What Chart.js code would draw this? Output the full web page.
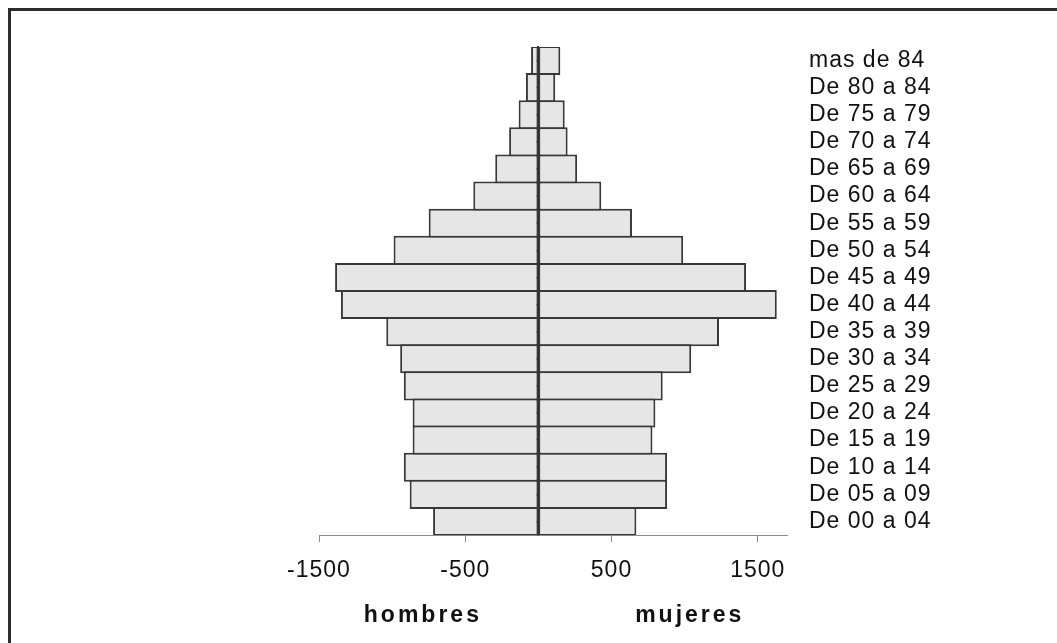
<!DOCTYPE html>
<html>
<head>
<meta charset="utf-8">
<title>Pirámide de población</title>
<script src="https://cdn.jsdelivr.net/npm/chart.js@4.4.0/dist/chart.umd.min.js"></script>
<style>
  html, body { margin: 0; padding: 0; background: #fff; overflow: hidden; }
  #wrap { position: relative; width: 1057px; height: 643px; }
  #frame {
    position: absolute; left: 8px; top: 8px; width: 1100px; height: 700px;
    border-top: 3px solid #2d2d2d; border-left: 3px solid #2d2d2d;
    pointer-events: none;
  }
</style>
</head>
<body>
<div id="wrap">
  <canvas id="pyramid"></canvas>
  <div id="frame"></div>
</div>
<script>
// age groups, oldest first (top of the pyramid)
const ageGroups = [
  'mas de 84', 'De 80 a 84', 'De 75 a 79', 'De 70 a 74', 'De 65 a 69',
  'De 60 a 64', 'De 55 a 59', 'De 50 a 54', 'De 45 a 49', 'De 40 a 44',
  'De 35 a 39', 'De 30 a 34', 'De 25 a 29', 'De 20 a 24', 'De 15 a 19',
  'De 10 a 14', 'De 05 a 09', 'De 00 a 04'
];
// men drawn to the left, so negative
const hombres = [
  -50, -85, -135, -200, -295, -445, -750, -990, -1390, -1350,
  -1040, -945, -920, -860, -860, -920, -880, -720
];
const mujeres = [
  150, 115, 180, 200, 265, 430, 640, 990, 1420, 1630,
  1235, 1045, 850, 800, 780, 880, 880, 670
];
const xTicks = [-1500, -500, 500, 1500];
const sexLabels = [
  { text: 'hombres', at: -800 },
  { text: 'mujeres', at: 1025 }
];

const FONT = '"Liberation Sans", Arial, sans-serif';

// a little extra tracking on all canvas text
const spacing = {
  id: 'spacing',
  beforeUpdate(chart) { chart.ctx.letterSpacing = '1px'; },
  beforeDraw(chart) { chart.ctx.letterSpacing = '1px'; }
};

// "hombres" / "mujeres" under the x axis
const sexTitles = {
  id: 'sexTitles',
  afterDraw(chart) {
    const ctx = chart.ctx;
    const x = chart.scales.x;
    ctx.save();
    ctx.letterSpacing = '3px';
    ctx.font = 'bold 23px ' + FONT;
    ctx.fillStyle = '#111';
    ctx.textAlign = 'center';
    ctx.textBaseline = 'alphabetic';
    sexLabels.forEach(l => {
      ctx.fillText(l.text, x.getPixelForValue(l.at) + 1.5, 622);
    });
    ctx.restore();
  }
};

const barStyle = {
  backgroundColor: '#e6e6e6',
  borderColor: '#383838',
  borderWidth: 2,
  borderSkipped: false,
  barPercentage: 1.074,
  categoryPercentage: 1
};

new Chart(document.getElementById('pyramid'), {
  type: 'bar',
  data: {
    labels: ageGroups,
    datasets: [
      { label: 'hombres', data: hombres, ...barStyle },
      { label: 'mujeres', data: mujeres, ...barStyle }
    ]
  },
  options: {
    indexAxis: 'y',
    responsive: true,
    maintainAspectRatio: false,
    animation: false,
    layout: { padding: { left: 319, top: 47, right: 0, bottom: 0 } },
    plugins: {
      legend: { display: false },
      tooltip: { enabled: false }
    },
    scales: {
      x: {
        type: 'linear',
        stacked: true,
        min: -1500,
        max: 1700,
        afterBuildTicks: s => { s.ticks = xTicks.map(v => ({ value: v })); },
        afterFit: s => { s.height = 108; },
        grid: { drawOnChartArea: false, drawTicks: true, tickLength: 7, color: '#8c8c8c', lineWidth: 1 },
        border: { display: true, color: '#8c8c8c', width: 1 },
        ticks: {
          color: '#111',
          font: { family: FONT, size: 23 },
          padding: 15,
          maxRotation: 0,
          autoSkip: false,
          callback: v => String(v)
        }
      },
      y: {
        type: 'category',
        position: 'right',
        stacked: true,
        offset: true,
        afterFit: s => { s.width = 270; },
        grid: { display: false, drawTicks: false },
        border: { display: false },
        ticks: {
          crossAlign: 'near',
          padding: 22,
          color: '#111',
          font: { family: FONT, size: 23 },
          autoSkip: false
        }
      },
      // centre line with small marks on the left
      yc: {
        type: 'category',
        position: { x: 0 },
        offset: true,
        grid: { display: true, drawOnChartArea: false, drawTicks: true, tickLength: 5, offset: false, color: '#333', lineWidth: 1.5 },
        border: { display: true, color: '#333', width: 2 },
        ticks: { display: false }
      }
    }
  },
  plugins: [spacing, sexTitles]
});
</script>
</body>
</html>
